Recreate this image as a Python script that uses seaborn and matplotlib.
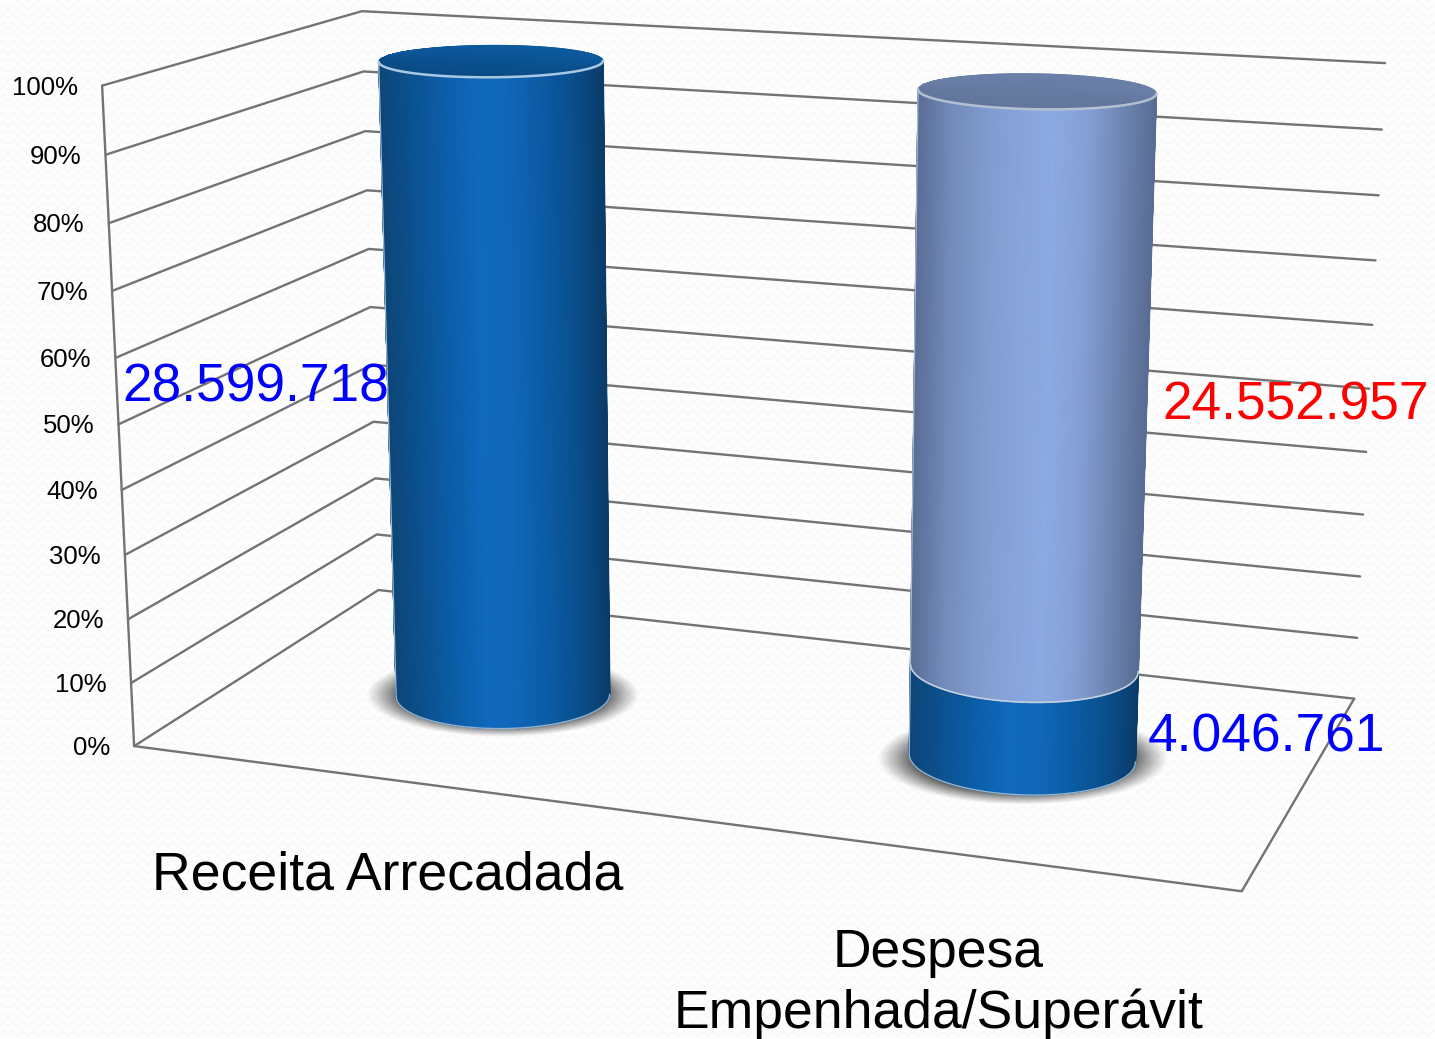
"""Stacked 100% cylinder chart, drawn through a small perspective camera
"""
import numpy as np
import pandas as pd
import seaborn as sea
import matplotlib.pyplot as plt

sea.set_theme(style="white")
plt.rcParams["font.family"] = ["Liberation Sans", "DejaVu Sans"]

categories = ["Receita Arrecadada", "Despesa\nEmpenhada/Superávit"]
valor_azul = np.array([28599718, 4046761])
valor_claro = np.array([0, 24552957])
azul_labels = ["28.599.718", "4.046.761"]
claro_labels = ["", "24.552.957"]
pct_ticks = [0, 10, 20, 30, 40, 50, 60, 70, 80, 90, 100]
pct_labels = ["0%", "10%", "20%", "30%", "40%", "50%", "60%", "70%", "80%", "90%", "100%"]

W, H = 1435, 1039
GRID = "#737373"

# camera: world (x across, y depth, z height) -> picture pixels, fit on the box corners
WORLD = [(0, 0, 0), (0, 0, 1), (0, 1, 0), (0, 1, 1), (1, 1, 0), (1, 1, 1), (1, 0, 0)]
PIXEL = [(134, 746), (102, 86), (378.5, 590), (362, 11), (1354, 699), (1385, 63), (1242, 891)]

rows = []
for (wx, wy, wz), (px, py) in zip(WORLD, PIXEL):
    p = [wx, wy, wz, 1]
    rows.append(p + [0, 0, 0, 0] + [-px * v for v in p])
    rows.append([0, 0, 0, 0] + p + [-py * v for v in p])
CAM = np.linalg.svd(np.array(rows, float))[2][-1].reshape(3, 4)


def project(x, y, z):
    x, y, z = np.broadcast_arrays(x, y, z)
    pts = np.stack([x, y, z, np.ones_like(x, dtype=float)], axis=-1) @ CAM.T
    return pts[..., 0] / pts[..., 2], pts[..., 1] / pts[..., 2]


fig = plt.figure(figsize=(W / 100, H / 100), dpi=100)
ax = fig.add_axes([0, 0, 1, 1])

# faint woven paper behind the chart
yy, xx = np.mgrid[0:H, 0:W]
paper = 0.988 + 0.009 * np.sin(2 * np.pi * (yy + 2.2 * np.sin(2 * np.pi * xx / 10)) / 9)
ax.imshow(paper, cmap="gray", vmin=0, vmax=1, extent=(0, W, H, 0), aspect="auto", zorder=0)

# bar geometry comes from seaborn on a hidden axes
ax_bars = fig.add_axes([0, 0, 1, 1])
ax_bars.set_visible(False)
total = valor_azul + valor_claro
pct_azul = valor_azul / total * 100
pct_topo = (valor_azul + valor_claro) / total * 100
sea.barplot(x=categories, y=pct_azul, width=0.4, ax=ax_bars)
sea.barplot(x=categories, y=pct_topo, width=0.4, ax=ax_bars)
bars_azul, bars_topo = ax_bars.containers[0], ax_bars.containers[1]

# walls and floor
lines = []
for i, t in enumerate(pct_ticks):
    z = t / 100
    gx, gy = project([0, 0, 1], [0, 1, 1], [z, z, z])
    lines += [dict(line=f"g{i}", px=a, py=b) for a, b in zip(gx, gy)]
fx, fy = project([0, 0], [0, 0], [0, 1])
lines += [dict(line="front", px=a, py=b) for a, b in zip(fx, fy)]
fx, fy = project([0, 1, 1], [0, 0, 1], [0, 0, 0])
lines += [dict(line="floor", px=a, py=b) for a, b in zip(fx, fy)]
sea.lineplot(data=pd.DataFrame(lines), x="px", y="py", units="line", estimator=None,
    sort=False, color=GRID, linewidth=1.7, legend=False, ax=ax, zorder=1)

# tick labels sit a fixed distance left of the front edge
lx, ly = project(np.zeros(len(pct_ticks)), np.zeros(len(pct_ticks)), np.array(pct_ticks) / 100)
for a, b, s in zip(lx, ly, pct_labels):
    ax.text(a - 24, b + 2, s, ha="right", va="center", fontsize=18.5, color="#000000", zorder=6)

DEPTH = 0.19  # cylinder radius along the depth axis
CY = 0.485
THETA = np.linspace(0, 2 * np.pi, 361)

blue_side = sea.blend_palette(["#0d4678", "#0b5290", "#0b5ea8", "#1069bd", "#1067b8", "#0b5ca6", "#0a508e", "#0a3c6a"], as_cmap=True)
blue_cap = sea.blend_palette(["#0c5a9e", "#094a85"], as_cmap=True)
light_side = sea.blend_palette(["#5a6e96", "#728bba", "#7f9bce", "#87a3da", "#8ca9e2", "#84a0d6", "#6f87b4", "#596d94"], as_cmap=True)
light_cap = sea.blend_palette(["#6b80a8", "#62769c"], as_cmap=True)


def front_arc(cx, r, z):
    # the visible front half, from the leftmost to the rightmost projected point
    ang = np.linspace(np.pi - 0.8, 2 * np.pi + 0.8, 721)
    ex = project(cx + r * np.cos(ang), CY + DEPTH * np.sin(ang), z)[0]
    return np.linspace(ang[np.argmin(ex)], ang[np.argmax(ex)], 181)


def cylinder_mesh(cx, r, z0, z1, cmap):
    zs = np.array([z0, (z0 + z1) / 2, z1])
    ang = np.array([front_arc(cx, r, z) for z in zs])
    mx, my = project(cx + r * np.cos(ang), CY + DEPTH * np.sin(ang), zs[:, None])
    u = (mx - mx.min(axis=1, keepdims=True)) / np.ptp(mx, axis=1, keepdims=True)
    ax.pcolormesh(mx, my, u, cmap=cmap, vmin=0, vmax=1, shading="gouraud", zorder=3)
    # cover the stepped mesh edge on the shaded side
    ax.plot(mx[:, -1], my[:, -1], color=cmap(1.0), lw=1.2, zorder=4)
    return mx, my


def cap_mesh(cx, r, z, cmap):
    s = np.linspace(-1, 1, 81)[None, :]
    t = np.linspace(-1, 1, 31)[:, None]
    wx = cx + r * s * np.ones_like(t)
    wy = CY + DEPTH * t * np.sqrt(1 - s ** 2)
    mx, my = project(wx, wy, z)
    ax.pcolormesh(mx, my, (1 - t) / 2 * np.ones_like(s), cmap=cmap, vmin=0, vmax=1,
        shading="gouraud", zorder=4)


def shadow(cx, r):
    sx, sy = project(cx + 1.29 * r * np.cos(THETA), CY + 1.24 * DEPTH * np.sin(THETA), 0)
    mx, my = (sx.min() + sx.max()) / 2, (sy.min() + sy.max()) / 2
    ra, rb = np.ptp(sx) / 2, np.ptp(sy) / 2
    gy, gx = np.mgrid[my - rb:my + rb:200j, mx - ra:mx + ra:300j]
    d = np.hypot((gx - mx) / ra, (gy - my) / rb)
    rgba = np.zeros(d.shape + (4,))
    rgba[..., :3] = 0.25
    rgba[..., 3] = 0.88 * np.clip((1 - d) / 0.26, 0, 1) ** 1.1
    ax.imshow(rgba, extent=(mx - ra, mx + ra, my + rb, my - rb), aspect="auto", zorder=2)


for bar_a, bar_t in zip(bars_azul, bars_topo):
    cx = (bar_a.get_x() + bar_a.get_width() / 2 + 0.5) / 2 + 0.002
    r = bar_a.get_width() / 4
    z_a, z_t = bar_a.get_height() / 100, bar_t.get_height() / 100
    shadow(cx, r)
    mx, my = cylinder_mesh(cx, r, 0, z_a, blue_side)
    ax.plot(mx[0], my[0], color="#8fb3d0", lw=1, zorder=5)
    ax.plot(mx[:, 0], my[:, 0], color="#9fbdd6", lw=0.9, zorder=5)
    if z_t > z_a:
        mx, my = cylinder_mesh(cx, r, z_a, z_t, light_side)
        ax.plot(mx[0], my[0], color="#c4d0e0", lw=1.2, zorder=5)
        ax.plot(mx[:, 0], my[:, 0], color="#aab8d0", lw=0.9, zorder=5)
        cap_mesh(cx, r, z_t, light_cap)
        rim = "#b4c0d2"
    else:
        cap_mesh(cx, r, z_a, blue_cap)
        rim = "#a9c8e2"
    ax.plot(mx[-1], my[-1], color=rim, lw=1.8, zorder=5)

ax.text(122, 402, azul_labels[0], color="#0000ff", fontsize=38.3, ha="left", va="baseline", zorder=7)
ax.text(1148, 751, azul_labels[1], color="#0000ff", fontsize=38.3, ha="left", va="baseline", zorder=7)
ax.text(1162, 419, claro_labels[1], color="#ff0000", fontsize=38.3, ha="left", va="baseline", zorder=7)
ax.text(388, 890, categories[0], color="#000000", fontsize=38.6, ha="center", va="baseline", zorder=7)
ax.text(938, 967, categories[1].split("\n")[0], color="#000000", fontsize=38.5, ha="center", va="baseline", zorder=7)
ax.text(939, 1028, categories[1].split("\n")[1], color="#000000", fontsize=38.5, ha="center", va="baseline", zorder=7)

ax.set_xlim(0, W)
ax.set_ylim(H, 0)
ax.axis("off")

fig.savefig("out.png", dpi=100)
plt.close()
